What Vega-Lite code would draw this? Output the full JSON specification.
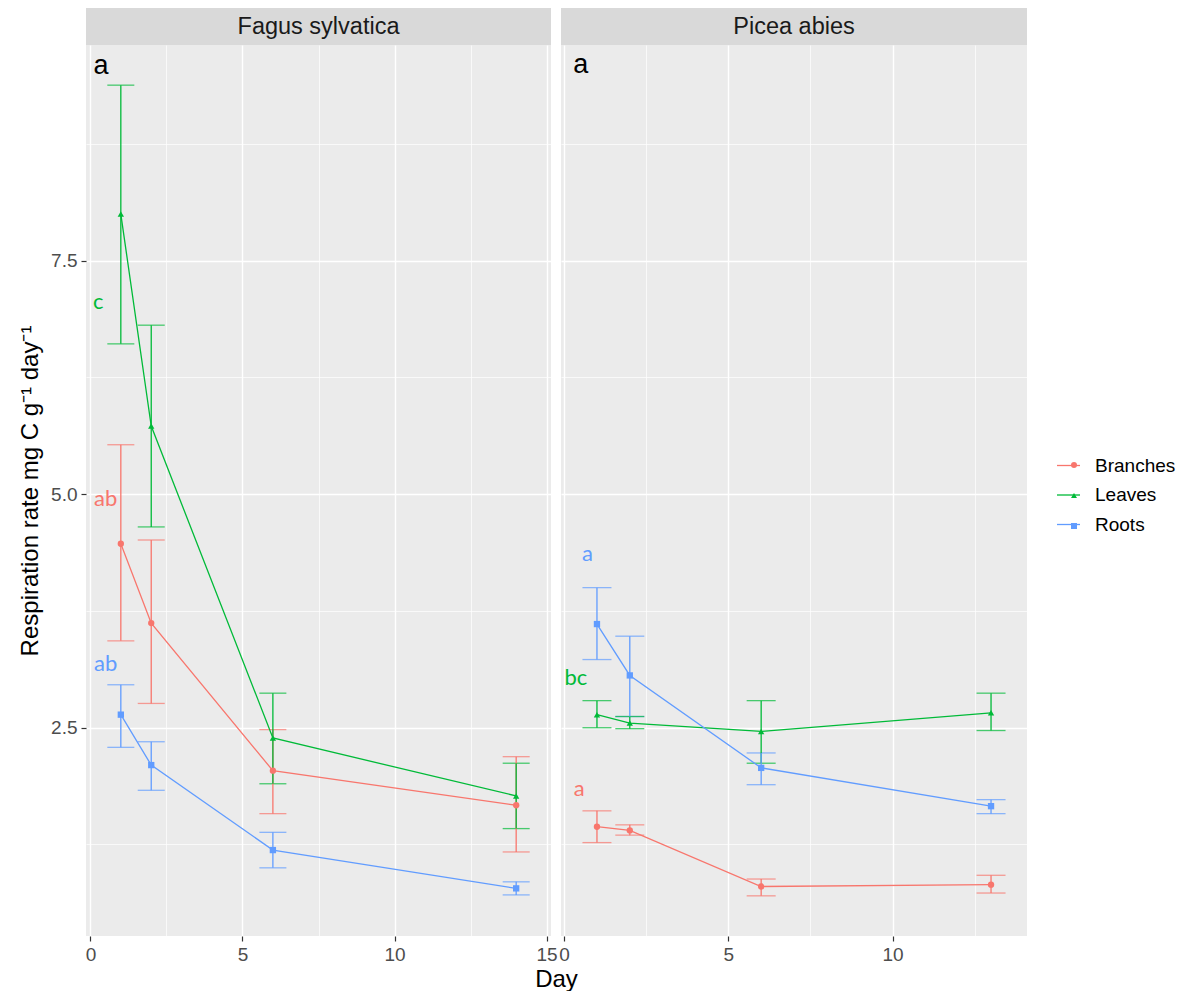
{
  "$schema": "https://vega.github.io/schema/vega-lite/v6.json",
  "background": "white",
  "padding": {"left": 18, "top": 8, "right": 5, "bottom": 0},
  "datasets": {
    "resp": [
      {"species": "Fagus sylvatica", "organ": "Branches", "day": 1, "mean": 4.47, "lo": 3.43, "hi": 5.53},
      {"species": "Fagus sylvatica", "organ": "Branches", "day": 2, "mean": 3.62, "lo": 2.76, "hi": 4.51},
      {"species": "Fagus sylvatica", "organ": "Branches", "day": 6, "mean": 2.04, "lo": 1.58, "hi": 2.48},
      {"species": "Fagus sylvatica", "organ": "Branches", "day": 14, "mean": 1.67, "lo": 1.17, "hi": 2.19},
      {"species": "Fagus sylvatica", "organ": "Leaves", "day": 1, "mean": 8.0, "lo": 6.61, "hi": 9.38},
      {"species": "Fagus sylvatica", "organ": "Leaves", "day": 2, "mean": 5.73, "lo": 4.65, "hi": 6.81},
      {"species": "Fagus sylvatica", "organ": "Leaves", "day": 6, "mean": 2.39, "lo": 1.9, "hi": 2.87},
      {"species": "Fagus sylvatica", "organ": "Leaves", "day": 14, "mean": 1.77, "lo": 1.42, "hi": 2.12},
      {"species": "Fagus sylvatica", "organ": "Roots", "day": 1, "mean": 2.64, "lo": 2.29, "hi": 2.96},
      {"species": "Fagus sylvatica", "organ": "Roots", "day": 2, "mean": 2.1, "lo": 1.83, "hi": 2.35},
      {"species": "Fagus sylvatica", "organ": "Roots", "day": 6, "mean": 1.19, "lo": 1.0, "hi": 1.38},
      {"species": "Fagus sylvatica", "organ": "Roots", "day": 14, "mean": 0.78, "lo": 0.71, "hi": 0.85},
      {"species": "Picea abies", "organ": "Branches", "day": 1, "mean": 1.44, "lo": 1.27, "hi": 1.61},
      {"species": "Picea abies", "organ": "Branches", "day": 2, "mean": 1.4, "lo": 1.35, "hi": 1.46},
      {"species": "Picea abies", "organ": "Branches", "day": 6, "mean": 0.8, "lo": 0.7, "hi": 0.88},
      {"species": "Picea abies", "organ": "Branches", "day": 13, "mean": 0.82, "lo": 0.73, "hi": 0.92},
      {"species": "Picea abies", "organ": "Leaves", "day": 1, "mean": 2.64, "lo": 2.5, "hi": 2.79},
      {"species": "Picea abies", "organ": "Leaves", "day": 2, "mean": 2.55, "lo": 2.49, "hi": 2.62},
      {"species": "Picea abies", "organ": "Leaves", "day": 6, "mean": 2.46, "lo": 2.12, "hi": 2.79},
      {"species": "Picea abies", "organ": "Leaves", "day": 13, "mean": 2.66, "lo": 2.47, "hi": 2.87},
      {"species": "Picea abies", "organ": "Roots", "day": 1, "mean": 3.61, "lo": 3.23, "hi": 4.0},
      {"species": "Picea abies", "organ": "Roots", "day": 2, "mean": 3.06, "lo": 2.62, "hi": 3.48},
      {"species": "Picea abies", "organ": "Roots", "day": 6, "mean": 2.07, "lo": 1.89, "hi": 2.23},
      {"species": "Picea abies", "organ": "Roots", "day": 13, "mean": 1.66, "lo": 1.58, "hi": 1.73}
    ],
    "letters": [
      {"species": "Fagus sylvatica", "organ": "Leaves", "x": 0.26, "y": 7.06, "label": "c"},
      {"species": "Fagus sylvatica", "organ": "Branches", "x": 0.5, "y": 4.95, "label": "ab"},
      {"species": "Fagus sylvatica", "organ": "Roots", "x": 0.5, "y": 3.18, "label": "ab"},
      {"species": "Picea abies", "organ": "Roots", "x": 0.71, "y": 4.36, "label": "a"},
      {"species": "Picea abies", "organ": "Leaves", "x": 0.36, "y": 3.03, "label": "bc"},
      {"species": "Picea abies", "organ": "Branches", "x": 0.46, "y": 1.84, "label": "a"}
    ],
    "panelLetters": [
      {"species": "Fagus sylvatica", "x": 0.35, "y": 9.59, "label": "a"},
      {"species": "Picea abies", "x": 0.51, "y": 9.6, "label": "a"}
    ]
  },
  "columns": 2,
  "concat": [
    {
      "width": 465,
      "height": 37,
      "view": {"fill": "#D9D9D9", "stroke": null},
      "data": {"values": [{"strip": "Fagus sylvatica"}]},
      "mark": {"type": "text", "fontSize": 23.5, "color": "#1A1A1A", "baseline": "middle"},
      "encoding": {
        "x": {"field": "strip", "type": "nominal", "axis": null},
        "y": {"field": "strip", "type": "nominal", "axis": null},
        "text": {"field": "strip"}
      }
    },
    {
      "width": 466,
      "height": 37,
      "view": {"fill": "#D9D9D9", "stroke": null},
      "data": {"values": [{"strip": "Picea abies"}]},
      "mark": {"type": "text", "fontSize": 23.5, "color": "#1A1A1A", "baseline": "middle"},
      "encoding": {
        "x": {"field": "strip", "type": "nominal", "axis": null},
        "y": {"field": "strip", "type": "nominal", "axis": null},
        "text": {"field": "strip"}
      }
    },
    {
      "width": 465,
      "height": 891,
      "encoding": {
        "x": {
          "field": "day", "type": "quantitative",
          "scale": {"domain": [-0.145, 15.145], "nice": false, "zero": false},
          "axis": {
            "values": [0, 2.5, 5, 7.5, 10, 12.5, 15],
            "labelExpr": "datum.value % 5 === 0 ? format(datum.value, 'd') : ''",
            "labelFlush": false, "labelOverlap": false,
            "tickOpacity": {"condition": {"test": "datum.value % 5 === 0", "value": 1}, "value": 0},
            "gridWidth": {"condition": {"test": "datum.value % 5 === 0", "value": 1.4}, "value": 0.7},
            "title": "Day", "titleX": 470, "titlePadding": 3
          }
        }
      },
      "layer": [
        {
          "data": {"name": "resp"},
          "transform": [{"filter": "datum.species === 'Fagus sylvatica'"}],
          "mark": {"type": "errorbar", "ticks": {"size": 27, "thickness": 1.3}, "thickness": 1.3},
          "encoding": {
            "y": {
              "field": "lo", "type": "quantitative",
              "scale": {"domain": [0.27, 9.81], "nice": false, "zero": false},
              "axis": {
                "values": [1.25, 2.5, 3.75, 5, 6.25, 7.5, 8.75],
                "labelExpr": "datum.value % 2.5 === 0 ? format(datum.value, '.1f') : ''",
                "labelOverlap": false,
                "tickOpacity": {"condition": {"test": "datum.value % 2.5 === 0", "value": 1}, "value": 0},
                "gridWidth": {"condition": {"test": "datum.value % 2.5 === 0", "value": 1.4}, "value": 0.7},
                "title": "Respiration rate mg C g⁻¹ day⁻¹", "titlePadding": 8
              }
            },
            "y2": {"field": "hi"},
            "color": {
              "field": "organ", "type": "nominal",
              "scale": {"domain": ["Branches", "Leaves", "Roots"], "range": ["#F8766D", "#00BA38", "#619CFF"]},
              "legend": null
            }
          }
        },
        {
          "data": {"name": "resp"},
          "transform": [{"filter": "datum.species == 'Fagus sylvatica'"}],
          "mark": {"type": "line", "strokeWidth": 1.3},
          "encoding": {
            "y": {
              "field": "mean", "type": "quantitative",
              "axis": {
                "values": [1.25, 2.5, 3.75, 5, 6.25, 7.5, 8.75],
                "labelExpr": "datum.value % 2.5 === 0 ? format(datum.value, '.1f') : ''",
                "labelOverlap": false,
                "tickOpacity": {"condition": {"test": "datum.value % 2.5 === 0", "value": 1}, "value": 0},
                "gridWidth": {"condition": {"test": "datum.value % 2.5 === 0", "value": 1.4}, "value": 0.7},
                "title": "Respiration rate mg C g⁻¹ day⁻¹", "titlePadding": 8
              }
            },
            "stroke": {
              "field": "organ", "type": "nominal",
              "scale": {"range": ["#F8766D", "#00BA38", "#619CFF"]},
              "legend": {
                "title": null, "orient": "none", "legendX": 970, "legendY": 445,
                "symbolType": "stroke", "symbolSize": 529, "symbolStrokeWidth": 1.3,
                "labelFontSize": 19, "labelColor": "#000000", "labelOffset": 14,
                "rowPadding": 6.5, "padding": 0
              }
            }
          }
        },
        {
          "data": {"name": "resp"},
          "transform": [{"filter": "datum.species === 'Fagus sylvatica'"}],
          "mark": {"type": "point", "filled": true, "opacity": 1, "size": 40},
          "encoding": {
            "y": {
              "field": "mean", "type": "quantitative",
              "axis": {
                "values": [1.25, 2.5, 3.75, 5, 6.25, 7.5, 8.75],
                "labelExpr": "datum.value % 2.5 === 0 ? format(datum.value, '.1f') : ''",
                "labelOverlap": false,
                "tickOpacity": {"condition": {"test": "datum.value % 2.5 === 0", "value": 1}, "value": 0},
                "gridWidth": {"condition": {"test": "datum.value % 2.5 === 0", "value": 1.4}, "value": 0.7},
                "title": "Respiration rate mg C g⁻¹ day⁻¹", "titlePadding": 8
              }
            },
            "fill": {
              "field": "organ", "type": "nominal",
              "scale": {"range": ["#F8766D", "#00BA38", "#619CFF"]},
              "legend": {
                "title": null, "orient": "none", "legendX": 978.5, "legendY": 447.5,
                "symbolSize": 36, "symbolOpacity": 1, "symbolStrokeWidth": 0,
                "labelFontSize": 19, "labelOpacity": 0, "labelAlign": "right", "labelOffset": -8,
                "rowPadding": 10.5, "padding": 0, "zindex": 1
              }
            },
            "shape": {
              "field": "organ", "type": "nominal",
              "scale": {"range": ["circle", "triangle-up", "square"]},
              "legend": {
                "title": null, "orient": "none", "legendX": 978.5, "legendY": 447.5,
                "symbolSize": 36, "symbolOpacity": 1, "symbolStrokeWidth": 0,
                "labelFontSize": 19, "labelOpacity": 0, "labelAlign": "right", "labelOffset": -8,
                "rowPadding": 10.5, "padding": 0, "zindex": 1
              }
            }
          }
        },
        {
          "data": {"name": "letters"},
          "transform": [{"filter": "datum.species === 'Fagus sylvatica'"}],
          "mark": {"type": "text", "font": "Lato", "fontSize": 22},
          "encoding": {
            "x": {"field": "x", "type": "quantitative"},
            "y": {
              "field": "y", "type": "quantitative",
              "axis": {
                "values": [1.25, 2.5, 3.75, 5, 6.25, 7.5, 8.75],
                "labelExpr": "datum.value % 2.5 === 0 ? format(datum.value, '.1f') : ''",
                "labelOverlap": false,
                "tickOpacity": {"condition": {"test": "datum.value % 2.5 === 0", "value": 1}, "value": 0},
                "gridWidth": {"condition": {"test": "datum.value % 2.5 === 0", "value": 1.4}, "value": 0.7},
                "title": "Respiration rate mg C g⁻¹ day⁻¹", "titlePadding": 8
              }
            },
            "text": {"field": "label"},
            "color": {"field": "organ", "type": "nominal", "legend": null}
          }
        },
        {
          "data": {"name": "panelLetters"},
          "transform": [{"filter": "datum.species === 'Fagus sylvatica'"}],
          "mark": {"type": "text", "fontSize": 27, "color": "#000000"},
          "encoding": {
            "x": {"field": "x", "type": "quantitative"},
            "y": {
              "field": "y", "type": "quantitative",
              "axis": {
                "values": [1.25, 2.5, 3.75, 5, 6.25, 7.5, 8.75],
                "labelExpr": "datum.value % 2.5 === 0 ? format(datum.value, '.1f') : ''",
                "labelOverlap": false,
                "tickOpacity": {"condition": {"test": "datum.value % 2.5 === 0", "value": 1}, "value": 0},
                "gridWidth": {"condition": {"test": "datum.value % 2.5 === 0", "value": 1.4}, "value": 0.7},
                "title": "Respiration rate mg C g⁻¹ day⁻¹", "titlePadding": 8
              }
            },
            "text": {"field": "label"}
          }
        }
      ]
    },
    {
      "width": 466,
      "height": 891,
      "encoding": {
        "x": {
          "field": "day", "type": "quantitative",
          "scale": {"domain": [-0.095, 14.095], "nice": false, "zero": false},
          "axis": {
            "values": [0, 2.5, 5, 7.5, 10, 12.5],
            "labelExpr": "datum.value % 5 === 0 ? format(datum.value, 'd') : ''",
            "labelFlush": false, "labelOverlap": false,
            "tickOpacity": {"condition": {"test": "datum.value % 5 === 0", "value": 1}, "value": 0},
            "gridWidth": {"condition": {"test": "datum.value % 5 === 0", "value": 1.4}, "value": 0.7},
            "title": null
          }
        }
      },
      "layer": [
        {
          "data": {"name": "resp"},
          "transform": [{"filter": "datum.species === 'Picea abies'"}],
          "mark": {"type": "errorbar", "ticks": {"size": 29, "thickness": 1.3}, "thickness": 1.3},
          "encoding": {
            "y": {
              "field": "lo", "type": "quantitative",
              "scale": {"domain": [0.27, 9.81], "nice": false, "zero": false},
              "axis": {
                "values": [1.25, 2.5, 3.75, 5, 6.25, 7.5, 8.75],
                "labels": false, "ticks": false, "title": null,
                "gridWidth": {"condition": {"test": "datum.value % 2.5 === 0", "value": 1.4}, "value": 0.7}
              }
            },
            "y2": {"field": "hi"},
            "color": {"field": "organ", "type": "nominal", "legend": null}
          }
        },
        {
          "data": {"name": "resp"},
          "transform": [{"filter": "datum.species == 'Picea abies'"}],
          "mark": {"type": "line", "strokeWidth": 1.3},
          "encoding": {
            "y": {
              "field": "mean", "type": "quantitative",
              "axis": {
                "values": [1.25, 2.5, 3.75, 5, 6.25, 7.5, 8.75],
                "labels": false, "ticks": false, "title": null,
                "gridWidth": {"condition": {"test": "datum.value % 2.5 === 0", "value": 1.4}, "value": 0.7}
              }
            },
            "stroke": {"field": "organ", "type": "nominal"}
          }
        },
        {
          "data": {"name": "resp"},
          "transform": [{"filter": "datum.species === 'Picea abies'"}],
          "mark": {"type": "point", "filled": true, "opacity": 1, "size": 40},
          "encoding": {
            "y": {
              "field": "mean", "type": "quantitative",
              "axis": {
                "values": [1.25, 2.5, 3.75, 5, 6.25, 7.5, 8.75],
                "labels": false, "ticks": false, "title": null,
                "gridWidth": {"condition": {"test": "datum.value % 2.5 === 0", "value": 1.4}, "value": 0.7}
              }
            },
            "fill": {"field": "organ", "type": "nominal"},
            "shape": {"field": "organ", "type": "nominal"}
          }
        },
        {
          "data": {"name": "letters"},
          "transform": [{"filter": "datum.species === 'Picea abies'"}],
          "mark": {"type": "text", "font": "Lato", "fontSize": 22},
          "encoding": {
            "x": {"field": "x", "type": "quantitative"},
            "y": {
              "field": "y", "type": "quantitative",
              "axis": {
                "values": [1.25, 2.5, 3.75, 5, 6.25, 7.5, 8.75],
                "labels": false, "ticks": false, "title": null,
                "gridWidth": {"condition": {"test": "datum.value % 2.5 === 0", "value": 1.4}, "value": 0.7}
              }
            },
            "text": {"field": "label"},
            "color": {"field": "organ", "type": "nominal", "legend": null}
          }
        },
        {
          "data": {"name": "panelLetters"},
          "transform": [{"filter": "datum.species === 'Picea abies'"}],
          "mark": {"type": "text", "fontSize": 27, "color": "#000000"},
          "encoding": {
            "x": {"field": "x", "type": "quantitative"},
            "y": {
              "field": "y", "type": "quantitative",
              "axis": {
                "values": [1.25, 2.5, 3.75, 5, 6.25, 7.5, 8.75],
                "labels": false, "ticks": false, "title": null,
                "gridWidth": {"condition": {"test": "datum.value % 2.5 === 0", "value": 1.4}, "value": 0.7}
              }
            },
            "text": {"field": "label"}
          }
        }
      ]
    }
  ],
  "spacing": {"row": 0, "column": 10},
  "bounds": "flush",
  "config": {
    "font": "Liberation Sans",
    "view": {"fill": "#EBEBEB", "stroke": null},
    "axis": {
      "domain": false,
      "gridColor": "#FFFFFF",
      "tickColor": "#333333",
      "tickSize": 5,
      "tickWidth": 1.2,
      "labelColor": "#4D4D4D",
      "labelFontSize": 19,
      "labelFont": "Liberation Sans",
      "labelPadding": 4,
      "titleFont": "Liberation Sans",
      "titleFontSize": 24,
      "titleFontWeight": "normal",
      "titleColor": "#000000",
      "titlePadding": 3
    },
    "legend": {"labelFont": "Liberation Sans"}
  }
}
